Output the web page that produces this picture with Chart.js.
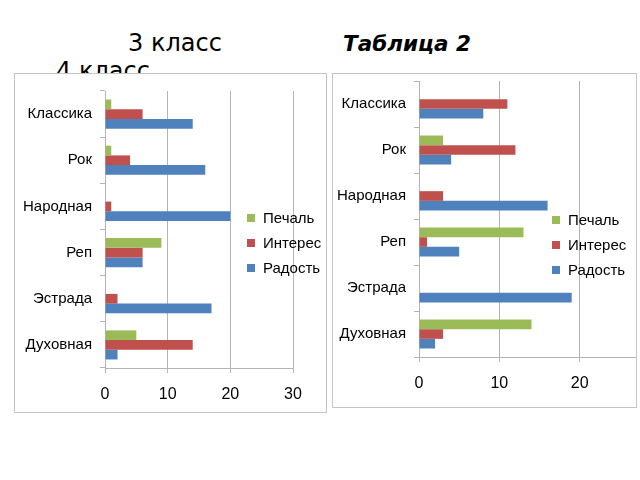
<!DOCTYPE html>
<html>
<head>
<meta charset="utf-8">
<script src="https://cdn.jsdelivr.net/npm/chart.js@4.4.0/dist/chart.umd.min.js"></script>
<style>
  body { margin: 0; width: 640px; height: 480px; background: #fff; position: relative; overflow: hidden; }
  .title { position: absolute; font-family: 'DejaVu Sans', sans-serif; color: #000; white-space: nowrap; line-height: 1; }
  .box { position: absolute; box-sizing: border-box; border: 1px solid #c4c4c4; background: #fff; overflow: hidden; }
  .box canvas { position: absolute; left: 0; }
  .legend { position: absolute; font-family: 'Liberation Sans', Arial, sans-serif; font-size: 15px; color: #000; }
  .legend div { position: absolute; white-space: nowrap; line-height: 1; }
  .legend span { display: inline-block; width: 8px; height: 8px; margin-right: 8px; vertical-align: 1px; }
</style>
</head>
<body>
<div class="title" style="left:128px;top:31px;font-size:24px;">3 класс</div>
<div class="title" style="left:343px;top:33px;font-size:21.5px;font-weight:bold;font-style:italic;">Таблица 2</div>
<div class="title" style="left:56px;top:59px;font-size:24px;">4 класс</div>

<div class="box" style="left:14px;top:73px;width:313px;height:340px;">
  <canvas id="leftChart"></canvas>
  <div class="legend" id="leftLegend" style="left:232px;top:136px;"></div>
</div>
<div class="box" style="left:332px;top:73px;width:305px;height:335px;">
  <canvas id="rightChart"></canvas>
  <div class="legend" id="rightLegend" style="left:219px;top:138px;"></div>
</div>

<script>
let categories = ['Классика', 'Рок', 'Народная', 'Реп', 'Эстрада', 'Духовная'];
let seriesNames = ['Печаль', 'Интерес', 'Радость'];
let seriesColors = ['#9bbb59', '#c0504d', '#4f81bd'];

// left chart
let class3Sad = [1, 1, 0, 9, 0, 5];
let class3Interest = [6, 4, 1, 6, 2, 14];
let class3Joy = [14, 16, 20, 6, 17, 2];

// right chart
let class4Sad = [0, 3, 0, 13, 0, 14];
let class4Interest = [11, 12, 3, 1, 0, 3];
let class4Joy = [8, 4, 16, 5, 19, 2];

let xMax = 30;
let xStep = 10;

let makeChart = (id, width, height, shiftUp, values, yWidth, pad) => {
  let canvas = document.getElementById(id);
  canvas.width = width;
  canvas.height = height;
  canvas.style.width = width + 'px';
  canvas.style.height = height + 'px';
  canvas.style.top = (-shiftUp) + 'px';
  let ctx = canvas.getContext('2d');

  new Chart(ctx, {
    type: 'bar',
    data: {
      labels: categories,
      datasets: seriesNames.map((name, i) => ({
        label: name,
        data: values[i],
        backgroundColor: seriesColors[i],
        borderWidth: 0,
        categoryPercentage: 0.63,
        barPercentage: 1,
      })),
    },
    options: {
      indexAxis: 'y',
      responsive: false,
      animation: false,
      layout: { padding: pad },
      plugins: {
        legend: { display: false },
        tooltip: { enabled: false },
      },
      scales: {
        x: {
          min: 0,
          max: xMax,
          ticks: {
            stepSize: xStep,
            padding: 12,
            color: '#000',
            font: { family: 'Liberation Sans', size: 16 },
          },
          grid: { color: '#b4b4b4', tickLength: 5 },
          border: { color: '#b4b4b4' },
          afterFit: (scale) => { scale.height = 34; },
        },
        y: {
          ticks: {
            padding: 8,
            color: '#000',
            font: { family: 'Liberation Sans', size: 15 },
          },
          grid: { drawOnChartArea: false, tickLength: 5, color: '#b4b4b4' },
          border: { color: '#b4b4b4' },
          afterFit: (scale) => { scale.width = yWidth; },
        },
      },
    },
  });
};

let makeLegend = (id) => {
  let legend = document.getElementById(id);
  seriesNames.forEach((name, i) => {
    let row = document.createElement('div');
    row.style.top = (i * 25) + 'px';
    row.innerHTML = '<span style="background:' + seriesColors[i] + '"></span>' + name;
    legend.appendChild(row);
  });
};

makeChart('leftChart', 311, 338, 0, [class3Sad, class3Interest, class3Joy], 90,
  { left: 0, right: 33, top: 14, bottom: 10 });
makeChart('rightChart', 348, 343, 10, [class4Sad, class4Interest, class4Joy], 86,
  { left: 0, right: 20, top: 12, bottom: 16 });

makeLegend('leftLegend');
makeLegend('rightLegend');
</script>
</body>
</html>
